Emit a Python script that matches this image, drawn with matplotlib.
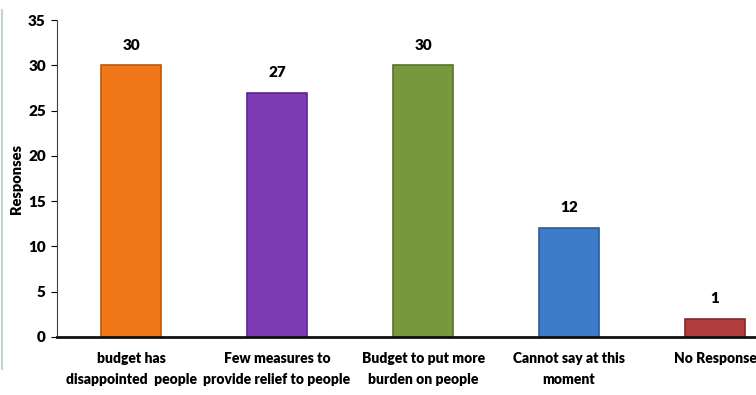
import matplotlib
matplotlib.use('Agg')
import matplotlib.pyplot as plt
from matplotlib.lines import Line2D

categories = ['budget has\ndisappointed  people', 'Few measures to\nprovide relief to people',
              'Budget to put more\nburden on people', 'Cannot say at this\nmoment', 'No Response']
values = [30, 27, 30, 12, 2]
labels = ['30', '27', '30', '12', '1']
colors = ['#F07818', '#7D3CB4', '#78983C', '#3C7CC8', '#B03C3C']
edges = ['#C05808', '#5A2490', '#56742A', '#2A5C9C', '#842828']

plt.rcParams['font.family'] = ['Lato', 'DejaVu Sans']
W = 'heavy'

fig = plt.figure(figsize=(7.56, 3.95), dpi=100)
ax = fig.add_axes([0.0754, 0.147, 0.9246, 0.802])

x = list(range(len(categories)))
ax.bar(x, values, width=0.41, color=colors, edgecolor=edges, linewidth=1.2, zorder=2)
for xi, v, lab in zip(x, values, labels):
    ax.annotate(lab, (xi, v), xytext=(0, 10), textcoords='offset points',
                ha='center', va='bottom', fontsize=11, fontweight=W)

ax.set_xlim(-0.507, 4.28)
ax.set_ylim(0, 35)
ax.set_yticks(range(0, 36, 5))
ax.set_xticks(x)
ax.set_xticklabels(categories, fontsize=10, fontweight=W, linespacing=1.7)
ax.tick_params(axis='x', length=0, pad=11)
ax.tick_params(axis='y', length=4, width=0.8, labelsize=11, pad=4)
for t in ax.get_yticklabels():
    t.set_fontweight(W)
ax.set_ylabel('Responses', fontsize=10.5, fontweight=W, labelpad=4)

ax.spines['top'].set_visible(False)
ax.spines['right'].set_visible(False)
ax.spines['left'].set_color('#404040')
ax.spines['left'].set_linewidth(0.8)
ax.spines['bottom'].set_color('#111111')
ax.spines['bottom'].set_linewidth(2)

# thin border on the left edge of the picture
fig.add_artist(Line2D([0.003, 0.003], [0.065, 0.975], color='#C4D4CC', linewidth=1.5))

fig.savefig('out.png', dpi=100)
